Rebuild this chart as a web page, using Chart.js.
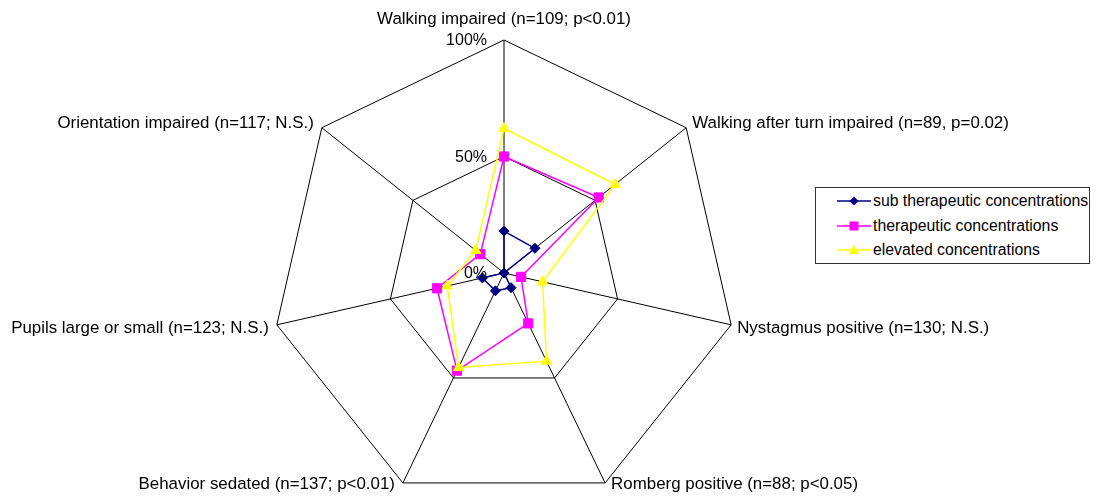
<!DOCTYPE html>
<html>
<head>
<meta charset="utf-8">
<script src="https://cdn.jsdelivr.net/npm/chart.js@4/dist/chart.umd.min.js"></script>
<style>
  html, body { margin: 0; padding: 0; background: #fff; overflow: hidden; }
  #wrap { position: relative; width: 1096px; height: 496px; }
  #chart { position: absolute; left: 0; top: 0; }
  .legend {
    position: absolute; left: 815px; top: 187px; width: 273px; height: 75px;
    border: 1px solid #333; background: #fff;
    font-family: "Liberation Sans", Arial, sans-serif; font-size: 15.8px; color: #000;
  }
  .legend .row { position: absolute; left: 21px; height: 20px; display: flex; align-items: center; }
  .legend svg { margin-right: 2px; }
</style>
</head>
<body>
<div id="wrap">
  <canvas id="chart" width="1096" height="520"></canvas>
  <div class="legend" id="legend"></div>
</div>
<script>
const categories = [
    'Walking impaired (n=109; p<0.01)',
    'Walking after turn impaired (n=89, p=0.02)',
    'Nystagmus positive (n=130; N.S.)',
    'Romberg positive (n=88; p<0.05)',
    'Behavior sedated (n=137; p<0.01)',
    'Pupils large or small (n=123; N.S.)',
    'Orientation impaired (n=117; N.S.)'
];
const seriesNames = ['sub therapeutic concentrations', 'therapeutic concentrations', 'elevated concentrations'];
const subTherapeutic = [18, 17, 0, 7, 8.5, 9.5, 0];
const therapeutic = [50, 52, 7.5, 24, 46.5, 29.5, 13];
const elevated = [62, 61, 17, 42, 45, 25, 15.5];
const tickValues = [0, 50, 100];
const tickLabels = ['0%', '50%', '100%'];

const colors = ['#000080', '#ff00ff', '#ffff00'];
const markers = ['rectRot', 'rect', 'triangle'];
const markerSize = [5, 6.5, 6];

// axis names and percent labels drawn beside the scale, the way the original places them
const axisText = {
    id: 'axisText',
    afterDraw(chart) {
        const r = chart.scales.r;
        const ctx = chart.ctx;
        ctx.save();
        ctx.fillStyle = '#000';
        ctx.textBaseline = 'middle';

        ctx.font = '16.9px "Liberation Sans", Arial, sans-serif';
        categories.forEach((label, i) => {
            const p = r.getPointPosition(i, r.drawingArea);
            let x = p.x;
            let y = p.y;
            if (i === 0) {
                ctx.textAlign = 'center';
                y -= 21;
            } else {
                if (p.x > r.xCenter) {
                    ctx.textAlign = 'left';
                    x += 6;
                } else {
                    ctx.textAlign = 'right';
                    x -= 8;
                }
                if (p.y < r.yCenter) y -= 4;
                else if (p.y - r.yCenter > 150) y += 1;
                else y += 3;
            }
            ctx.fillText(label, x, y);
        });

        ctx.font = '16px "Liberation Sans", Arial, sans-serif';
        ctx.textAlign = 'right';
        tickValues.forEach((v, i) => {
            const d = r.getDistanceFromCenterForValue(v);
            ctx.fillText(tickLabels[i], r.xCenter - 17, r.yCenter - d + 1);
        });
        ctx.restore();
    }
};

const allSeries = [subTherapeutic, therapeutic, elevated];

new Chart(document.getElementById('chart'), {
    type: 'radar',
    data: {
        labels: categories,
        datasets: allSeries.map((vals, i) => ({
            label: seriesNames[i],
            data: vals,
            borderColor: colors[i],
            backgroundColor: colors[i],
            pointBackgroundColor: colors[i],
            pointBorderColor: colors[i],
            pointStyle: markers[i],
            pointRadius: markerSize[i],
            pointBorderWidth: 1,
            borderWidth: 1.5,
            fill: false,
            tension: 0
        })).reverse()
    },
    options: {
        responsive: false,
        animation: false,
        devicePixelRatio: 1,
        layout: { padding: { left: 0, right: 87, top: 40, bottom: 14 } },
        plugins: {
            legend: { display: false },
            tooltip: { enabled: false }
        },
        scales: {
            r: {
                min: 0,
                max: 100,
                ticks: { display: false, stepSize: 50 },
                pointLabels: { display: false },
                grid: { color: '#000', lineWidth: 1 },
                angleLines: { color: '#000', lineWidth: 1 }
            }
        }
    },
    plugins: [axisText]
});

// legend in its own box, as in the original
const legend = document.getElementById('legend');
const rowTops = [3, 28, 52];
seriesNames.forEach((name, i) => {
    const row = document.createElement('div');
    row.className = 'row';
    row.style.top = rowTops[i] + 'px';
    let mark = '';
    if (i === 0) mark = '<polygon points="17,1.5 21.5,6 17,10.5 12.5,6" fill="' + colors[i] + '"/>';
    if (i === 1) mark = '<rect x="12.5" y="1.5" width="9" height="9" fill="' + colors[i] + '"/>';
    if (i === 2) mark = '<polygon points="17,1 22,10 12,10" fill="' + colors[i] + '"/>';
    row.innerHTML = '<svg width="34" height="12"><line x1="0" y1="6" x2="34" y2="6" stroke="' + colors[i] + '" stroke-width="1.5"/>' + mark + '</svg><span>' + name + '</span>';
    legend.appendChild(row);
});
</script>
</body>
</html>
